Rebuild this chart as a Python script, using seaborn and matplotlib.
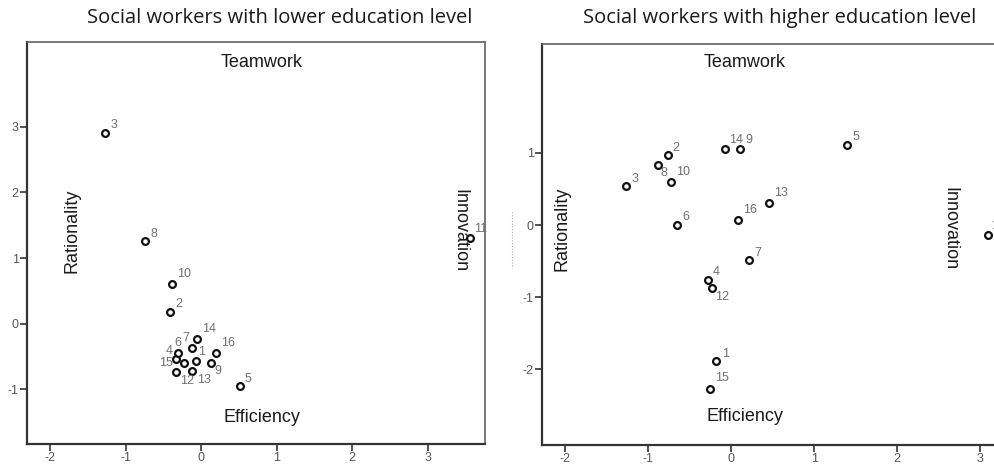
import matplotlib
matplotlib.use("Agg")
import matplotlib.pyplot as plt
from matplotlib.lines import Line2D
import seaborn as sns
import pandas as pd

# Case numbers and coordinates for each group
low_ids = [1, 2, 3, 4, 5, 6, 7, 8, 9, 10, 11, 12, 13, 14, 15, 16]
low_x = [-0.07, -0.41, -1.28, -0.33, 0.51, -0.31, -0.12, -0.74, 0.13, -0.39, 3.56, -0.33, -0.12, -0.06, -0.23, 0.19]
low_y = [-0.56, 0.18, 2.91, -0.53, -0.95, -0.44, -0.37, 1.26, -0.59, 0.61, 1.31, -0.73, -0.72, -0.23, -0.60, -0.44]

high_ids = [1, 2, 3, 4, 5, 6, 7, 8, 9, 10, 11, 12, 13, 14, 15, 16]
high_x = [-0.18, -0.76, -1.27, -0.28, 1.40, -0.65, 0.21, -0.88, 0.11, -0.73, 3.09, -0.23, 0.45, -0.08, -0.25, 0.08]
high_y = [-1.88, 0.97, 0.54, -0.76, 1.11, 0.00, -0.48, 0.83, 1.05, 0.59, -0.14, -0.87, 0.30, 1.05, -2.27, 0.07]

titles = ["Social workers with lower education level",
          "Social workers with higher education level"]
x_ticks = [-2, -1, 0, 1, 2, 3]
low_y_ticks = [-1, 0, 1, 2, 3]
high_y_ticks = [-2, -1, 0, 1]

# Label offsets (pixels) so labels sit clear of the crowded points
low_offsets = {1: (6, 9), 2: (8, 8), 3: (9, 8), 4: (-7, 8), 5: (8, 7), 6: (0, 10),
               7: (-6, 10), 8: (8, 7), 9: (7, -8), 10: (12, 10), 11: (11, 9),
               12: (11, -9), 13: (12, -9), 14: (12, 10), 15: (-18, 0), 16: (12, 10)}
high_offsets = {1: (9, 7), 2: (8, 7), 3: (9, 7), 4: (8, 8), 5: (9, 8), 6: (9, 8),
                7: (9, 7), 8: (6, -8), 9: (9, 9), 10: (12, 10), 11: (10, 9),
                12: (10, -9), 13: (12, 10), 14: (12, 9), 15: (12, 11), 16: (12, 10)}

sns.set_theme(style="white")
plt.rcParams["font.family"] = ["Liberation Sans", "DejaVu Sans"]

W, H = 995, 465
fig = plt.figure(figsize=(W / 100, H / 100), dpi=100)


def px_axes(left, top, right, bottom):
    return fig.add_axes([left / W, 1 - bottom / H, (right - left) / W, (bottom - top) / H])


ax_low = px_axes(27, 42, 485, 444)
ax_high = px_axes(542, 44, 1010, 445)


def draw_panel(ax, ids, xs, ys, offsets, xlim, ylim, yticks, dims):
    df = pd.DataFrame({"case": ids, "x": xs, "y": ys})
    sns.scatterplot(data=df, x="x", y="y", ax=ax, marker="o", s=24,
                    facecolor="white", edgecolor="#111111", linewidth=1.6,
                    legend=False, zorder=3)
    for cid, px, py in zip(ids, xs, ys):
        dx, dy = offsets[cid]
        ax.annotate(str(cid), (px, py), xytext=(dx, dy), textcoords="offset pixels",
                    ha="center", va="center", fontsize=9, color="#707070",
                    annotation_clip=False)
    ax.set_xlim(*xlim)
    ax.set_ylim(*ylim)
    ax.set_xticks(x_ticks)
    ax.set_xticklabels([str(t) for t in x_ticks])
    ax.set_yticks(yticks)
    ax.set_yticklabels([str(t) for t in yticks])
    ax.set_xlabel("")
    ax.set_ylabel("")
    ax.tick_params(axis="both", direction="out", length=5, width=1.2,
                   color="#333333", labelsize=9, labelcolor="#555555", pad=1,
                   bottom=True, left=True)
    for side in ("left", "bottom"):
        ax.spines[side].set_color("#333333")
        ax.spines[side].set_linewidth(1.6)
    for side in ("top", "right"):
        ax.spines[side].set_color("#606060")
        ax.spines[side].set_linewidth(1.2)
    (tx, ty), (ex, ey), (rx, ry), (ix, iy) = dims
    kw = dict(transform=ax.transAxes, ha="center", va="center",
              fontsize=13, color="#1a1a1a")
    ax.text(tx, ty, "Teamwork", **kw)
    ax.text(ex, ey, "Efficiency", **kw)
    ax.text(rx, ry, "Rationality", rotation=90, **kw)
    ax.text(ix, iy, "Innovation", rotation=-90, **kw)


draw_panel(ax_low, low_ids, low_x, low_y, low_offsets,
           (-2.31, 3.76), (-1.83, 4.29), low_y_ticks,
           ((0.513, 0.95), (0.513, 0.067), (0.099, 0.53), (0.945, 0.53)))
draw_panel(ax_high, high_ids, high_x, high_y, high_offsets,
           (-2.28, 3.36), (-3.05, 2.51), high_y_ticks,
           ((0.433, 0.955), (0.433, 0.07), (0.042, 0.54), (0.872, 0.54)))

fig.text(280 / W, 1 - 18 / H, titles[0], ha="center", va="center",
         fontsize=14.5, color="#1a1a1a", family=["Open Sans", "DejaVu Sans"])
fig.text(780 / W, 1 - 18 / H, titles[1], ha="center", va="center",
         fontsize=14.5, color="#1a1a1a", family=["Open Sans", "DejaVu Sans"])

# faint dotted guide left of the second panel
fig.add_artist(Line2D([512 / W, 512 / W], [1 - 212 / H, 1 - 268 / H],
                      transform=fig.transFigure, color="#b0b0b0",
                      linestyle=(0, (1, 1.5)), linewidth=0.8))

fig.savefig("out.png", dpi=100)
